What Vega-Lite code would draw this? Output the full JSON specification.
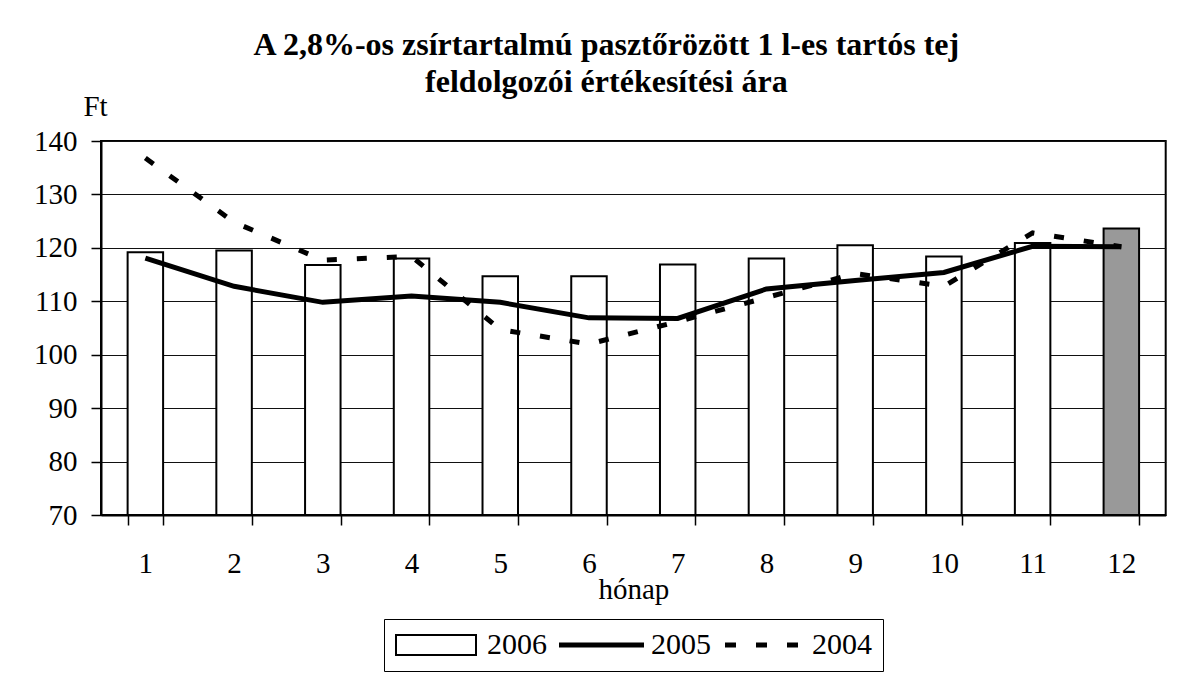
{
  "$schema": "https://vega.github.io/schema/vega-lite/v6.json",
  "width": 1064.7,
  "height": 374,
  "autosize": {"type": "none"},
  "padding": {"left": 101, "top": 141, "right": 24.3, "bottom": 158},
  "background": "white",
  "config": {
    "view": {"stroke": "black", "strokeWidth": 2},
    "font": "Liberation Serif, Times New Roman, DejaVu Serif, serif",
    "axis": {
      "labelFont": "Liberation Serif, Times New Roman, DejaVu Serif, serif",
      "labelFontSize": 29,
      "labelColor": "black",
      "titleFont": "Liberation Serif, Times New Roman, DejaVu Serif, serif",
      "titleFontSize": 29,
      "titleFontWeight": "normal",
      "titleColor": "black",
      "domainColor": "black",
      "domainWidth": 2,
      "tickColor": "black",
      "tickWidth": 1.5,
      "tickSize": 10
    },
    "legend": {
      "labelFont": "Liberation Serif, Times New Roman, DejaVu Serif, serif",
      "labelFontSize": 30,
      "labelColor": "black",
      "symbolOpacity": 1,
      "symbolStrokeColor": "black",
      "symbolStrokeWidth": 2,
      "symbolSize": 400
    }
  },
  "title": {
    "text": ["A 2,8%-os zsírtartalmú pasztőrözött 1 l-es tartós tej", "feldolgozói értékesítési ára"],
    "font": "Liberation Serif, Times New Roman, DejaVu Serif, serif",
    "fontSize": 32,
    "fontWeight": "bold",
    "color": "black",
    "anchor": "middle",
    "dx": -27,
    "offset": -7,
    "lineHeight": 37
  },
  "data": {
    "values": [
      {"month": 1, "series": "2006", "value": 119.2},
      {"month": 2, "series": "2006", "value": 119.5},
      {"month": 3, "series": "2006", "value": 116.8},
      {"month": 4, "series": "2006", "value": 118.0},
      {"month": 5, "series": "2006", "value": 114.7},
      {"month": 6, "series": "2006", "value": 114.7},
      {"month": 7, "series": "2006", "value": 116.9},
      {"month": 8, "series": "2006", "value": 118.0},
      {"month": 9, "series": "2006", "value": 120.5},
      {"month": 10, "series": "2006", "value": 118.4},
      {"month": 11, "series": "2006", "value": 120.9},
      {"month": 12, "series": "2006", "value": 123.6},
      {"month": 1, "series": "2004", "value": 136.8},
      {"month": 2, "series": "2004", "value": 124.8},
      {"month": 3, "series": "2004", "value": 117.7},
      {"month": 4, "series": "2004", "value": 118.4},
      {"month": 5, "series": "2004", "value": 104.7},
      {"month": 6, "series": "2004", "value": 102.0},
      {"month": 7, "series": "2004", "value": 106.2},
      {"month": 8, "series": "2004", "value": 110.7},
      {"month": 9, "series": "2004", "value": 115.2},
      {"month": 10, "series": "2004", "value": 112.8},
      {"month": 11, "series": "2004", "value": 122.8},
      {"month": 12, "series": "2004", "value": 120.2},
      {"month": 1, "series": "2005", "value": 118.1},
      {"month": 2, "series": "2005", "value": 112.8},
      {"month": 3, "series": "2005", "value": 109.8},
      {"month": 4, "series": "2005", "value": 111.0},
      {"month": 5, "series": "2005", "value": 109.8},
      {"month": 6, "series": "2005", "value": 106.9},
      {"month": 7, "series": "2005", "value": 106.8},
      {"month": 8, "series": "2005", "value": 112.3},
      {"month": 9, "series": "2005", "value": 113.9},
      {"month": 10, "series": "2005", "value": 115.4},
      {"month": 11, "series": "2005", "value": 120.3},
      {"month": 12, "series": "2005", "value": 120.2}
    ]
  },
  "encoding": {
    "x": {
      "field": "month",
      "type": "ordinal",
      "scale": {"paddingInner": 0.6, "paddingOuter": 0.3},
      "axis": {
        "title": "hónap",
        "labelAngle": 0,
        "labelBaseline": "alphabetic",
        "labelPadding": 47,
        "tickBand": "extent",
        "titleBaseline": "alphabetic",
        "titleY": 83
      }
    },
    "y": {
      "field": "value",
      "type": "quantitative",
      "scale": {"domain": [70, 140], "nice": false, "zero": false},
      "axis": {
        "values": [70, 80, 90, 100, 110, 120, 130, 140],
        "grid": true,
        "gridColor": "#111",
        "gridWidth": 1,
        "labelAlign": "right",
        "labelBaseline": "middle",
        "labelPadding": 14,
        "title": "Ft",
        "titleAngle": 0,
        "titleAlign": "center",
        "titleBaseline": "alphabetic",
        "titleX": -6,
        "titleY": -26
      }
    }
  },
  "layer": [
    {
      "transform": [{"filter": "datum.series === '2006'"}],
      "mark": {"type": "bar", "stroke": "black", "strokeWidth": 2},
      "encoding": {
        "y2": {"datum": 70},
        "fill": {
          "condition": {"test": "datum.month === 12", "value": "#999999"},
          "value": "white"
        }
      }
    },
    {
      "transform": [{"filter": "datum.series === '2004'"}],
      "mark": {"type": "line", "color": "black", "strokeWidth": 5, "strokeDash": [10, 20], "strokeCap": "butt"},
      "encoding": {}
    },
    {
      "transform": [{"filter": "datum.series === '2005'"}],
      "mark": {"type": "line", "color": "black", "strokeWidth": 5},
      "encoding": {}
    },
    {
      "mark": {"type": "point", "filled": true, "opacity": 0, "strokeWidth": 2},
      "encoding": {
        "fill": {
          "field": "series",
          "type": "nominal",
          "scale": {"domain": ["2006", "2005", "2004"], "range": ["white", "black", "black"]},
          "legend": {
            "title": null,
            "orient": "none",
            "direction": "horizontal",
            "legendX": 283,
            "legendY": 478,
            "padding": 11,
            "strokeColor": "black",
            "labelOffset": 62,
            "columnPadding": 9,
            "symbolOpacity": 1,
            "symbolStrokeColor": "black"
          }
        },
        "stroke": {
          "field": "series",
          "type": "nominal",
          "scale": {"domain": ["2006", "2005", "2004"], "range": ["black", "black", "black"]},
          "legend": {
            "title": null,
            "orient": "none",
            "direction": "horizontal",
            "legendX": 283,
            "legendY": 478,
            "padding": 11,
            "strokeColor": "black",
            "labelOffset": 62,
            "columnPadding": 9,
            "symbolOpacity": 1,
            "symbolStrokeColor": "black"
          }
        },
        "shape": {
          "field": "series",
          "type": "nominal",
          "scale": {
            "domain": ["2006", "2005", "2004"],
            "range": [
              "M-1.4,-1H6.6V1H-1.4Z",
              "M-1.4,-0.16H6.9V0.16H-1.4Z",
              "M-0.9,-0.16H0V0.16H-0.9Z M2.2,-0.16H3.1V0.16H2.2Z M5.3,-0.16H6.2V0.16H5.3Z"
            ]
          },
          "legend": {
            "title": null,
            "orient": "none",
            "direction": "horizontal",
            "legendX": 283,
            "legendY": 478,
            "padding": 11,
            "strokeColor": "black",
            "labelOffset": 62,
            "columnPadding": 9,
            "symbolOpacity": 1,
            "symbolStrokeColor": "black"
          }
        }
      }
    }
  ]
}
